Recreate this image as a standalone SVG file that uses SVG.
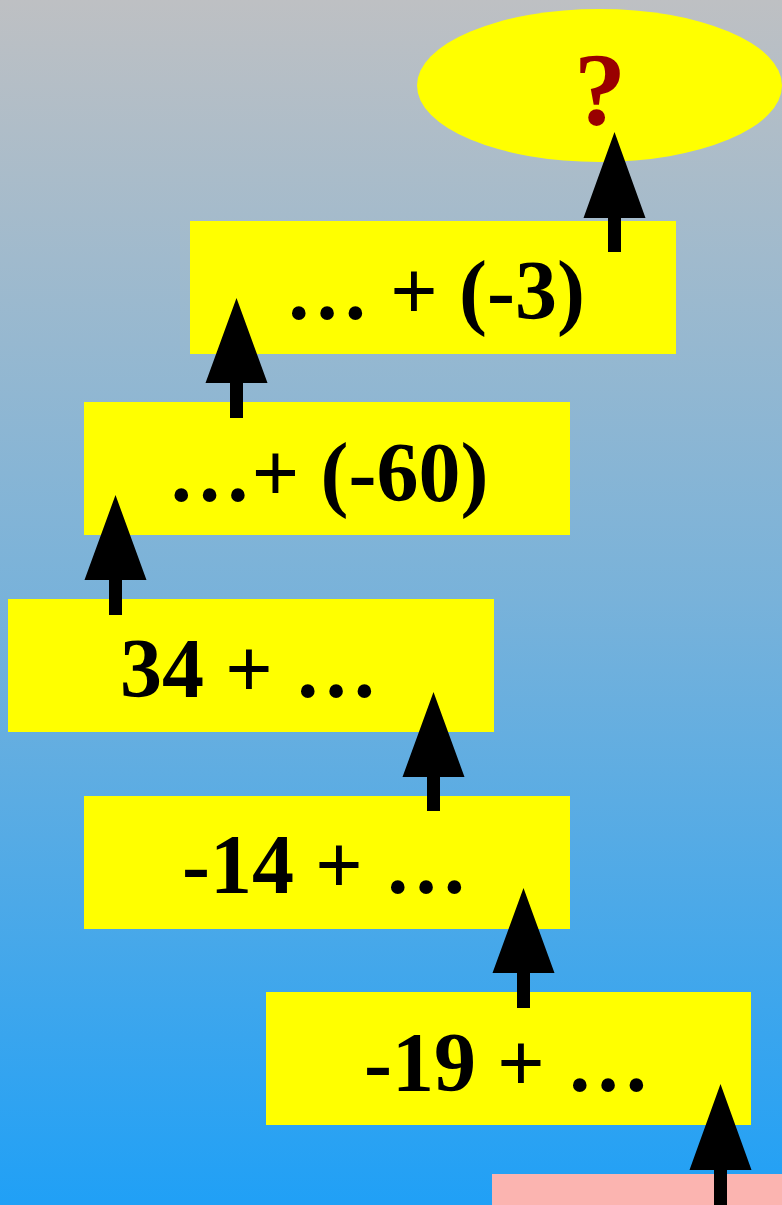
<svg xmlns="http://www.w3.org/2000/svg" width="782" height="1205" viewBox="0 0 782 1205">
  <defs>
    <linearGradient id="bg" x1="0" y1="0" x2="0" y2="1">
      <stop offset="0" stop-color="#BEC0C3"/>
      <stop offset="0.5" stop-color="#78B2DA"/>
      <stop offset="1" stop-color="#20A0F6"/>
    </linearGradient>
  </defs>
  <style>
    .box { fill: #FFFF00; }
    .lbl { font-family: "Liberation Serif", "Times New Roman", serif; font-weight: bold; font-size: 84px; fill: #000000; text-anchor: middle; }
    .q { font-family: "Liberation Serif", "Times New Roman", serif; font-weight: bold; font-size: 104px; fill: #990000; text-anchor: middle; }
    .arr { fill: #000000; }
  </style>
  <rect x="0" y="0" width="782" height="1205" fill="url(#bg)"/>

  <g id="start">
    <rect x="492" y="1174" width="290" height="31" fill="#FBB4B0"/>
  </g>
  <g id="result">
    <ellipse cx="599.5" cy="85.5" rx="182.5" ry="76.5" class="box"/>
    <text x="600" y="125" class="q">?</text>
  </g>
  <g id="step5">
    <rect x="190" y="221" width="486" height="133" class="box"/>
    <text x="435" y="319" class="lbl">… + (-3)</text>
  </g>
  <g id="step4">
    <rect x="84" y="402" width="486" height="133" class="box"/>
    <text x="328" y="501" class="lbl">…+ (-60)</text>
  </g>
  <g id="step3">
    <rect x="8" y="599" width="486" height="133" class="box"/>
    <text x="249" y="697" class="lbl">34 + …</text>
  </g>
  <g id="step2">
    <rect x="84" y="796" width="486" height="133" class="box"/>
    <text x="325" y="893" class="lbl">-14 + …</text>
  </g>
  <g id="step1">
    <rect x="266" y="992" width="485" height="133" class="box"/>
    <text x="507" y="1091" class="lbl">-19 + …</text>
  </g>

  <g id="connectors" class="arr">
    <path d="M614.5,132 L645.5,218 L621,218 L621,252 L608,252 L608,218 L583.5,218 Z"/>
    <path d="M236.5,298 L267.5,383 L243,383 L243,418 L230,418 L230,383 L205.5,383 Z"/>
    <path d="M115.5,495 L146.5,580 L122,580 L122,615 L109,615 L109,580 L84.5,580 Z"/>
    <path d="M433.5,692 L464.5,777 L440,777 L440,811 L427,811 L427,777 L402.5,777 Z"/>
    <path d="M523.5,888 L554.5,973 L530,973 L530,1008 L517,1008 L517,973 L492.5,973 Z"/>
    <path d="M720.5,1084 L751.5,1170 L727,1170 L727,1205 L714,1205 L714,1170 L689.5,1170 Z"/>
  </g>
</svg>
